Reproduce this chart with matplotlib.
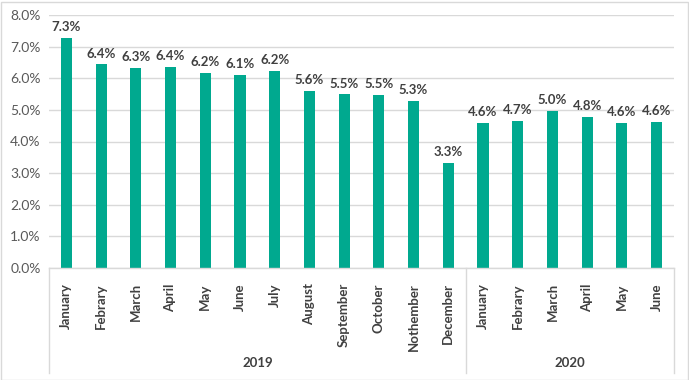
import numpy as np
import matplotlib.pyplot as plt
from matplotlib.patches import Rectangle
import matplotlib.transforms as mtransforms

# data
months = ["January", "Febrary", "March", "April", "May", "June", "July",
          "August", "September", "October", "Nothember", "December",
          "January", "Febrary", "March", "April", "May", "June"]
rates = [7.28, 6.44, 6.33, 6.36, 6.18, 6.11, 6.24, 5.59, 5.49, 5.48, 5.29, 3.33,
         4.58, 4.66, 4.98, 4.78, 4.58, 4.63]
years = ["2019", "2020"]
year_counts = [12, 6]

bar_col = "#00A98F"
grid_col = "#D9D9D9"
txt_col = "#404040"
tick_col = "#595959"
plt.rcParams['font.family'] = ['Lato', 'DejaVu Sans']

fig = plt.figure(figsize=(6.89, 3.80), dpi=100)
ax = fig.add_axes([49/689, 112/380, 625/689, 253/380])

x = np.arange(len(months))
ax.bar(x, rates, width=0.32, color=bar_col, zorder=3)
for xi, r in zip(x, rates):
    ax.text(xi, r + 0.15, f"{r:.1f}%", ha="center", va="bottom",
            fontsize=9.5, fontweight="bold", color=txt_col)

ax.set_xlim(-0.5, len(months) - 0.5)
ax.set_ylim(0, 8)
ax.set_yticks(np.arange(0, 9, 1))
ax.set_yticklabels([f"{v:.1f}%" for v in range(9)], fontsize=10, color=tick_col)
ax.tick_params(axis="y", length=0, pad=6)
ax.set_xticks([])
ax.grid(axis="y", color=grid_col, linewidth=1, zorder=0)
for s in ax.spines.values():
    s.set_visible(False)
ax.axhline(0, color=grid_col, linewidth=1, zorder=4, clip_on=False)

# multi level category axis
trans = mtransforms.blended_transform_factory(ax.transData, ax.transAxes)
for xi, m in zip(x, months):
    ax.text(xi, -0.06, m, rotation=90, ha="center", va="top",
            fontsize=9.5, fontweight="bold", color=txt_col, transform=trans)

start = 0
edges = [-0.5]
for yr, n in zip(years, year_counts):
    ax.text(start + (n - 1) / 2, -0.375, yr, ha="center", va="center",
            fontsize=9.5, fontweight="bold", color=txt_col, transform=trans)
    start += n
    edges.append(start - 0.5)
for e in edges:
    ax.plot([e, e], [0, -0.415], color=grid_col, linewidth=1,
            transform=trans, clip_on=False)

# outer chart border
fig.patches.append(Rectangle((0.5/689, 0.5/380), 687/689, 378/380,
                             transform=fig.transFigure, fill=False,
                             edgecolor=grid_col, linewidth=1))

fig.savefig("out.png", dpi=100)
